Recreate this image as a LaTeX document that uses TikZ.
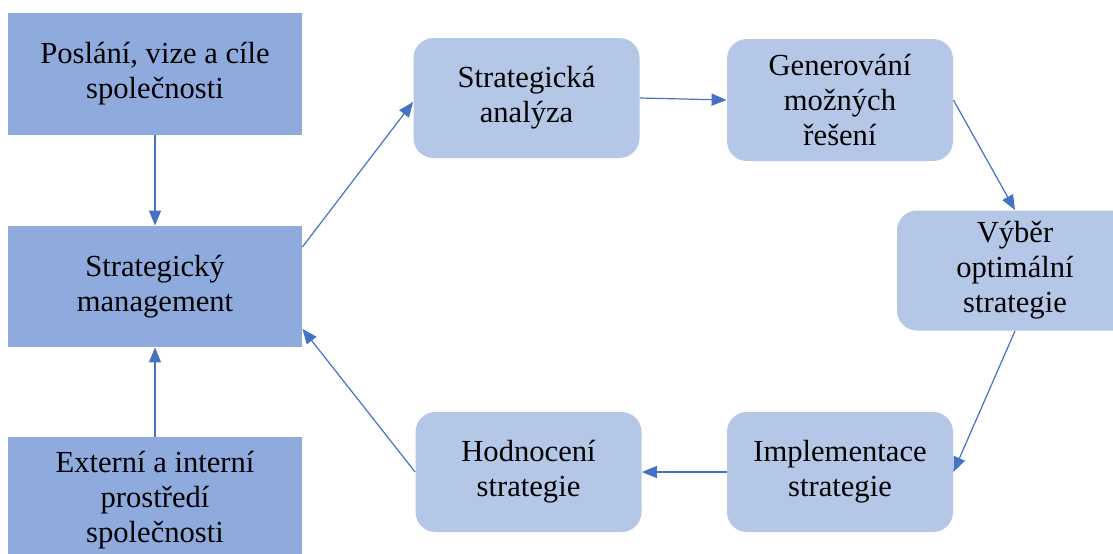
\documentclass[tikz,border=0pt]{standalone}
\usepackage{fontspec}
\setmainfont{Liberation Serif}
\newfontfamily\boxfont{Liberation Serif}
\usetikzlibrary{arrows.meta}
\definecolor{darkbox}{HTML}{8FAADC}
\definecolor{lightbox}{HTML}{B4C7E7}
\definecolor{arrowblue}{HTML}{4472C4}
\begin{document}
\begin{tikzpicture}[x=0.5pt,y=-0.5pt,
  sqbox/.style={shape=rectangle,fill=darkbox,align=center,inner sep=0pt,minimum width=147pt,font=\boxfont\fontsize{15.3}{17.5}\selectfont},
  rndbox/.style={shape=rectangle,fill=lightbox,rounded corners=10pt,align=center,inner sep=0pt,minimum width=113pt,minimum height=60pt,font=\boxfont\fontsize{15.3}{17.5}\selectfont},
  arr/.style={-{Triangle[length=7.5pt,width=6pt]},color=arrowblue,line width=0.6pt}]
\useasboundingbox (0,0) rectangle (1113,553);
\clip (0,0) rectangle (1113,553);
\node[sqbox,minimum height=61pt] (0) at (155,74) {Poslání, vize a cíle\\společnosti};
\node[sqbox,minimum height=60.5pt] (1) at (155,286.5) {Strategický\\management};
\node[sqbox,minimum height=63pt] (2) at (155,500) {Externí a interní\\prostředí\\společnosti};
\node[rndbox] (3) at (526.5,98) {Strategická\\analýza};
\node[rndbox,minimum height=61pt] (4) at (840,100) {Generování\\možných\\řešení};
\node[rndbox,minimum width=118pt] (5) at (1015,270.5) {Výběr\\optimální\\strategie};
\node[rndbox] (6) at (840,472) {Implementace\\strategie};
\node[rndbox] (7) at (528.5,472) {Hodnocení\\strategie};

\path (0) edge[arr] node {} (1);
\path (2) edge[arr] node {} (1);
\path (1.15) edge[arr] node {} (3.182);
\path (3.east) edge[arr] node {} (4.west);
\path (4.east) edge[arr] node {} (5.north);
\path (5.south) edge[arr] node {} (6.east);
\path (6.west) edge[arr] node {} (7.east);
\path (7.west) edge[arr] node {} (1.344);
\end{tikzpicture}
\end{document}
